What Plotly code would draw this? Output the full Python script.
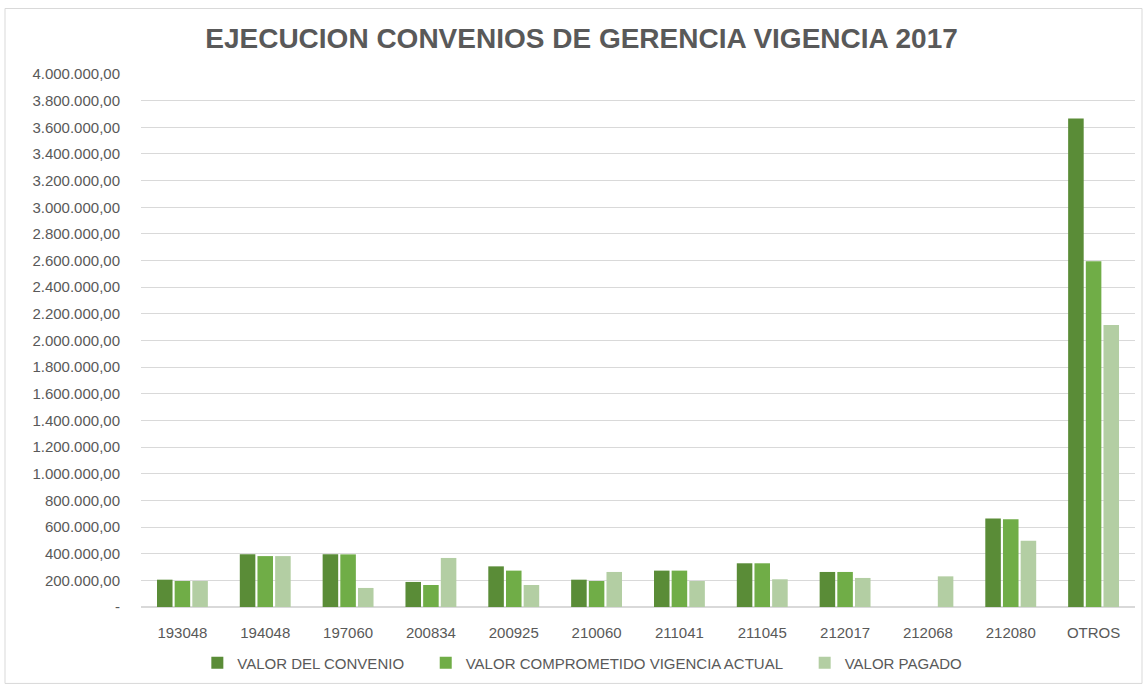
import plotly.graph_objects as go

# categories and series
convenios = ["193048", "194048", "197060", "200834", "200925", "210060",
             "211041", "211045", "212017", "212068", "212080", "OTROS"]
valor_convenio = [205000, 395000, 395000, 188000, 305000, 205000,
                  273000, 328000, 263000, 0, 665000, 3666000]
valor_comprometido = [195000, 382000, 395000, 165000, 273000, 195000,
                      273000, 328000, 263000, 0, 658000, 2594000]
valor_pagado = [195000, 382000, 143000, 368000, 165000, 263000,
                195000, 208000, 218000, 230000, 498000, 2117000]

tick_vals = list(range(0, 4000001, 200000))


def fmt(v):
    # es-CO style: 1.200.000,00 and "-" for zero
    if v == 0:
        return "-"
    return f"{v:,.2f}".replace(",", "X").replace(".", ",").replace("X", ".")


tick_text = [fmt(v) for v in tick_vals]

grey = "#595959"
font = "Liberation Sans, Arial, sans-serif"
pad = "\u00a0" * 4  # extra room between legend entries

fig = go.Figure()
fig.add_bar(x=convenios, y=valor_convenio, name="VALOR DEL CONVENIO" + pad,
            marker=dict(color="#5a8c37", line=dict(width=0)))
fig.add_bar(x=convenios, y=valor_comprometido, name="VALOR COMPROMETIDO VIGENCIA ACTUAL" + pad,
            marker=dict(color="#70ad47", line=dict(width=0)))
fig.add_bar(x=convenios, y=valor_pagado, name="VALOR PAGADO",
            marker=dict(color="#b3cea3", line=dict(width=0)))

fig.update_layout(
    width=1147, height=691,
    margin=dict(l=141, r=12, t=74, b=80),
    paper_bgcolor="white", plot_bgcolor="white",
    barmode="group", bargap=0.36, bargroupgap=0.12,
    font=dict(family=font, color=grey, size=14),
    title=dict(text="<b>EJECUCION CONVENIOS DE GERENCIA VIGENCIA 2017</b>",
               x=0.507, xanchor="center", y=0.945, yanchor="middle",
               font=dict(size=28, color=grey, family=font)),
    legend=dict(orientation="h", x=0.444, xanchor="center", y=-0.105, yanchor="middle",
                font=dict(size=15, color=grey), itemwidth=30, traceorder="normal"),
    showlegend=True,
)
fig.update_xaxes(showgrid=False, showline=True, linecolor="#d9d9d9", linewidth=1,
                 ticks="", ticklabelstandoff=12, tickfont=dict(size=15, color=grey))
fig.update_yaxes(range=[0, 4000000], tickvals=tick_vals, ticktext=tick_text,
                 showgrid=True, gridcolor="#d9d9d9", gridwidth=1,
                 zeroline=True, zerolinecolor="#d9d9d9", ticks="",
                 ticklabelstandoff=20, tickfont=dict(size=15, color=grey))

# outer chart border
fig.add_shape(type="rect", xref="paper", yref="paper",
              x0=(5 - 141) / 994, x1=(1142 - 141) / 994,
              y0=(611 - 688) / 537, y1=(611 - 8) / 537,
              line=dict(color="#d9d9d9", width=1), layer="below")

fig.write_html("out.html", config={"displayModeBar": False},
               post_script="document.body.style.margin='0';")
